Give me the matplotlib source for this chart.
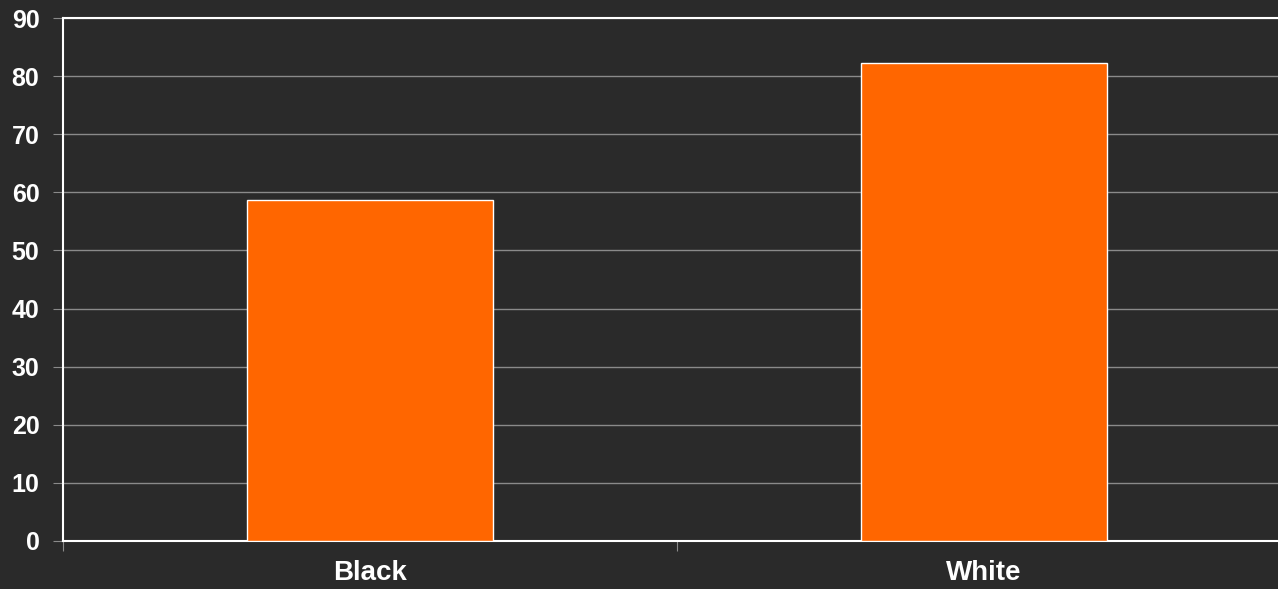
import matplotlib
matplotlib.use("Agg")
import matplotlib.pyplot as plt
from matplotlib.ticker import FixedLocator

plt.rcParams['font.family'] = ['Liberation Sans', 'DejaVu Sans']

# share of respondents by group
groups = ['Black', 'White']
values = [58.7, 82.3]
yticks = [0, 10, 20, 30, 40, 50, 60, 70, 80, 90]

bg = '#2a2a2a'
fig = plt.figure(figsize=(12.78, 5.89), dpi=100, facecolor=bg)
ax = fig.add_axes([63 / 1278, 48 / 589, 1228 / 1278, 523 / 589])
ax.set_facecolor(bg)

x = list(range(len(groups)))
ax.bar(x, values, width=0.4, color='#ff6600', edgecolor='white', linewidth=1, zorder=3)

ax.set_xlim(-0.5, len(groups) - 0.5)
ax.set_ylim(0, 90)
ax.set_yticks(yticks)
ax.yaxis.grid(True, color='#8a8a8a', linewidth=1, zorder=0)

# category boundaries get the tick marks, centres get the labels
ax.xaxis.set_major_locator(FixedLocator([i - 0.5 for i in range(len(groups) + 1)]))
ax.xaxis.set_minor_locator(FixedLocator(x))
ax.set_xticklabels([], minor=False)
ax.set_xticklabels(groups, minor=True)
ax.tick_params(axis='x', which='major', length=7, color='#8a8a8a', direction='out')
ax.tick_params(axis='x', which='minor', length=0, pad=14, labelsize=20, labelcolor='white')
ax.tick_params(axis='y', length=7, color='#8a8a8a', direction='out', pad=10,
               labelsize=18, labelcolor='white')
for lab in ax.get_xticklabels(minor=True) + ax.get_yticklabels():
    lab.set_fontweight('bold')

for side in ['left', 'bottom', 'top', 'right']:
    ax.spines[side].set_color('white')
    ax.spines[side].set_linewidth(1.5)

fig.savefig('out.png', dpi=100, facecolor=bg)
